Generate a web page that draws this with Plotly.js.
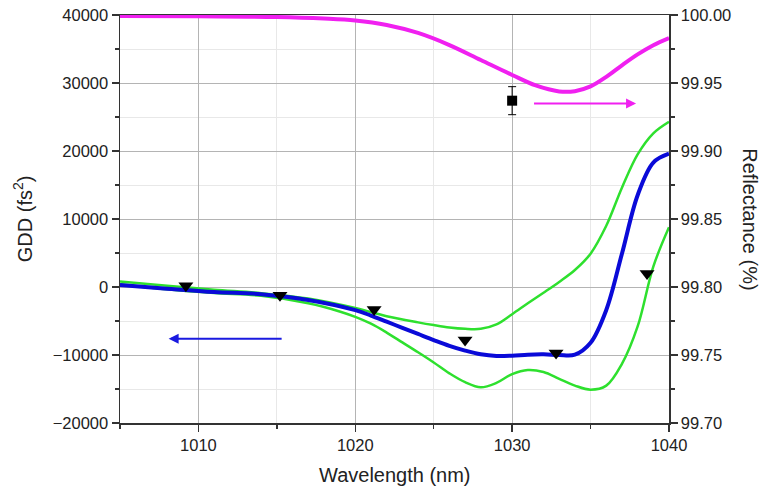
<!DOCTYPE html>
<html>
<head>
<meta charset="utf-8">
<script src="https://cdn.plot.ly/plotly-3.0.1.min.js"></script>
<style>html,body{margin:0;padding:0;background:#fff;}#chart{width:763px;height:490px;}</style>
</head>
<body>
<div id="chart"></div>
<script>
// GDD design (blue)
const wlBlue = [1005,1008,1011,1014,1017,1020,1021,1022,1023,1024,1025,1026,1027,1028,1029,1030,1031,1032,1033,1034,1035,1036,1037,1038,1039,1040];
const gddBlue = [300,-250,-750,-1050,-1900,-3400,-4200,-5100,-6000,-6900,-7800,-8650,-9350,-9900,-10150,-10100,-9950,-9900,-10000,-9950,-8200,-3380,4900,13500,18300,19600];
// GDD upper tolerance (green)
const wlUp = [1005,1008,1011,1014,1017,1020,1022,1024,1025,1026,1027,1028,1029,1030,1031,1032,1033,1034,1035,1036,1037,1038,1039,1040];
const gddUp = [800,200,-400,-900,-1700,-3100,-4300,-5200,-5600,-5950,-6150,-6150,-5500,-4000,-2400,-850,750,2500,4900,9000,14600,19500,22600,24300];
// GDD lower tolerance (green)
const wlLow = [1005,1008,1011,1014,1017,1019,1020,1021,1022,1023,1024,1025,1026,1027,1028,1029,1030,1031,1032,1033,1034,1035,1036,1037,1038,1039,1040];
const gddLow = [400,-350,-900,-1300,-2400,-3600,-4400,-5400,-6700,-8150,-9600,-11100,-12700,-14000,-14750,-14100,-12800,-12200,-12500,-13500,-14500,-15100,-14500,-11300,-5800,3000,8800];
// Reflectance (magenta)
const wlRefl = [1005,1010,1015,1018,1020,1022,1024,1026,1028,1030,1031.5,1033,1034,1035,1036,1037,1038,1039,1040];
const refl = [99.9993,99.9990,99.9985,99.9974,99.9960,99.9927,99.9868,99.9779,99.9669,99.9559,99.9482,99.9438,99.9440,99.9475,99.9545,99.9630,99.9710,99.9778,99.9831];
// Measured GDD (triangles)
const wlMeas = [1009.2,1015.2,1021.2,1027.0,1032.8,1038.6];
const gddMeas = [200,-1200,-3300,-7800,-9700,2000];
// Measured reflectance (square)
const wlRMeas = [1030];
const rMeas = [99.937];
const rErr = [0.0103];

const font = 'Arial, "Liberation Sans", sans-serif';
const txt = '#222';

const traces = [
  {x: wlUp, y: gddUp, mode: 'lines', line: {color: '#2ee02e', width: 2.5, shape: 'spline', smoothing: 1}, yaxis: 'y'},
  {x: wlLow, y: gddLow, mode: 'lines', line: {color: '#2ee02e', width: 2.5, shape: 'spline', smoothing: 1}, yaxis: 'y'},
  {x: wlBlue, y: gddBlue, mode: 'lines', line: {color: '#0a0ad8', width: 4, shape: 'spline', smoothing: 1}, yaxis: 'y'},
  {x: wlRefl, y: refl, mode: 'lines', line: {color: '#f020f0', width: 4, shape: 'spline', smoothing: 1}, yaxis: 'y2'},
  {x: wlMeas, y: gddMeas, mode: 'markers', marker: {symbol: 'triangle-down', size: 13, color: '#000'}, yaxis: 'y'},
  {x: wlRMeas, y: rMeas, mode: 'markers', marker: {symbol: 'square', size: 10, color: '#000'},
   error_y: {type: 'data', array: rErr, visible: true, color: '#000', thickness: 1, width: 4}, yaxis: 'y2'}
];

const layout = {
  width: 763, height: 490,
  margin: {l: 120, r: 94, t: 15, b: 67},
  paper_bgcolor: '#fff', plot_bgcolor: '#fff',
  showlegend: false,
  font: {family: font, color: txt, size: 16.5},
  xaxis: {
    range: [1005, 1040], tick0: 1010, dtick: 10,
    showline: true, linecolor: '#333', linewidth: 1.5, mirror: true,
    ticks: 'outside', ticklen: 7, tickcolor: '#333', tickwidth: 1.5,
    showgrid: true, gridcolor: '#b4b4b4', gridwidth: 1, zeroline: false,
    minor: {dtick: 5, ticks: 'outside', ticklen: 4, tickcolor: '#333', showgrid: true, gridcolor: '#e8e8e8'},
    tickfont: {size: 16.5, color: txt, family: font}
  },
  yaxis: {
    range: [-20000, 40000], dtick: 10000, tickformat: 'd',
    showline: true, linecolor: '#333', linewidth: 1.5,
    ticks: 'outside', ticklen: 7, tickcolor: '#333', tickwidth: 1.5,
    showgrid: true, gridcolor: '#b4b4b4', gridwidth: 1, zeroline: false,
    minor: {dtick: 5000, ticks: 'outside', ticklen: 4, tickcolor: '#333', showgrid: true, gridcolor: '#e8e8e8'},
    tickfont: {size: 16.5, color: txt, family: font}
  },
  yaxis2: {
    range: [99.70, 100.00], dtick: 0.05, tickformat: '.2f',
    overlaying: 'y', side: 'right',
    showline: true, linecolor: '#333', linewidth: 1.5,
    ticks: 'outside', ticklen: 7, tickcolor: '#333', tickwidth: 1.5,
    showgrid: false, zeroline: false,
    minor: {dtick: 0.025, ticks: 'outside', ticklen: 4, tickcolor: '#333', showgrid: false},
    tickfont: {size: 16.5, color: txt, family: font}
  },
  annotations: [
    {xref: 'paper', yref: 'paper', x: 0.5, y: -0.127, text: 'Wavelength (nm)', showarrow: false,
     xanchor: 'center', yanchor: 'middle', font: {size: 20, color: txt, family: font}},
    {xref: 'paper', yref: 'paper', x: -0.178, y: 0.5, text: 'GDD (fs<sup>2</sup>)', showarrow: false, textangle: -90,
     xanchor: 'center', yanchor: 'middle', font: {size: 20, color: txt, family: font}},
    {xref: 'paper', yref: 'paper', x: 1.147, y: 0.5, text: 'Reflectance (%)', showarrow: false, textangle: 90,
     xanchor: 'center', yanchor: 'middle', font: {size: 20, color: txt, family: font}},
    {xref: 'x', yref: 'y', x: 1008.1, y: -7600, axref: 'x', ayref: 'y', ax: 1015.4, ay: -7600,
     showarrow: true, arrowhead: 2, arrowsize: 1, arrowwidth: 2, arrowcolor: '#1a1ae0', text: ''},
    {xref: 'x', yref: 'y2', x: 1037.9, y: 99.935, axref: 'x', ayref: 'y2', ax: 1031.3, ay: 99.935,
     showarrow: true, arrowhead: 2, arrowsize: 1, arrowwidth: 2, arrowcolor: '#f020f0', text: ''}
  ]
};

Plotly.newPlot('chart', traces, layout, {displayModeBar: false, staticPlot: true});
</script>
</body>
</html>
